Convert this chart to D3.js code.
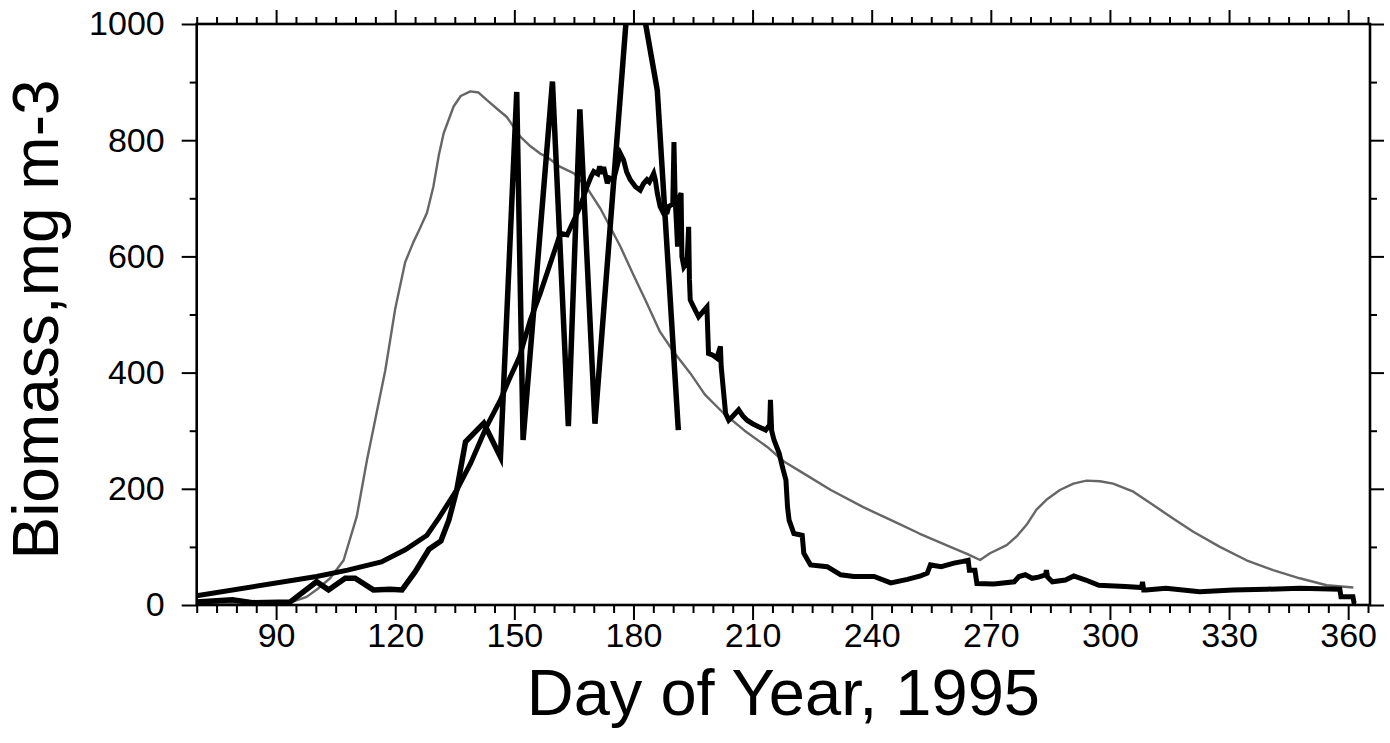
<!DOCTYPE html>
<html>
<head>
<meta charset="utf-8">
<script src="https://cdn.jsdelivr.net/npm/d3@7"></script>
<style>
  html, body { margin: 0; padding: 0; background: #fff; }
  svg { display: block; }
  text { font-family: "Liberation Sans", Arial, Helvetica, sans-serif; fill: #000; }
</style>
</head>
<body>
<svg id="chart" width="1390" height="743"></svg>
<script>
// ---------------- DATA ----------------
const xMajorTicks = [90, 120, 150, 180, 210, 240, 270, 300, 330, 360];
const yMajorTicks = [0, 200, 400, 600, 800, 1000];
const xTitle = "Day of Year, 1995";
const yTitle = "Biomass,mg m-3";

// thin gray curve [day, biomass]
const modelCurve = [
  [70,3],[80,3],[90,3],[93.5,4],[97.7,14],[100.5,28],[103.6,46],[107,77],[110.3,152],
  [112.9,250],[115,320],[117.5,404],[120,510],[122.5,590],[124.6,625],[126,645],[128,675],
  [129.6,720],[131,775],[132.2,812],[134.7,858],[136.5,876],[138.9,884],[141,882],[143.1,869],
  [146,852],[148.1,840],[149.8,823],[151.5,806],[154,790],[156.5,777],[158.2,771],[161.6,754],
  [165,743],[168.3,718],[171.7,682],[173.4,660],[176.7,617],[180,568],[183,525],[186.7,470],
  [190.2,435],[194.3,399],[198,362],[202.7,330],[208,300],[213.7,272],[217.9,247],[222,230],
  [229.7,198],[238,168],[246.5,141],[252,123],[259.8,100],[264,88],[267.3,77.5],[269.8,89],
  [274,103],[276.5,118],[279,138],[281.5,164],[284,181],[287.4,198],[290.8,209],[294.1,214],
  [297.5,213],[300.8,209],[305.9,195],[310.9,172],[315.9,149],[321,126],[327.7,100],[334.4,77],
  [341.1,60],[347.8,46],[354.6,34],[361.3,30]
];

// thick line: steady rise, then noisy plateau and decline to year end
const obsSeriesA = [
  [70,16],[100.2,49],[108,60],[116.5,74],[122.5,95],[128,120],[131,150],[135.5,198],[139,244],
  [143,307],[146.5,353],[148.6,387],[151.3,427],[154,490],[156.5,536],[159.9,605],[161.6,640],
  [163.3,637],[166.6,686],[168.3,720],[169.3,737],[170,746],[171,742],[171.5,755],[172,742],
  [172.5,754],[173.4,726],[174,735],[175,732],[176.7,777],[177.5,766],[178.3,745],[179.2,732],
  [180.5,720],[181.7,714],[182.5,725],[183.4,732],[184,728],[185.1,743],[185.5,732],[186,709],
  [186.7,686],[187.6,674],[188.5,676],[188.9,686],[189.9,690],[190.2,797],[190.5,700],[190.8,660],
  [191.1,617],[191.5,700],[192,709],[192.2,600],[192.7,582],[193.5,590],[193.9,651],[194.1,560],
  [194.3,525],[195,515],[196.4,496],[197.5,505],[198.5,513],[198.9,433],[200,430],[201,425],
  [201.9,445],[202.1,410],[203.2,330],[204,318],[205,325],[206.5,336],[207.5,326],[208.6,318],
  [210,312],[211.5,307],[213.3,301],[214.3,310],[214.5,353],[214.8,300],[215.4,284],[216.7,261],
  [217.5,238],[218.4,215],[218.8,169],[219.2,146],[220.4,123],[222.5,120],[222.9,89],[224.6,69],
  [228.8,66],[232.2,52],[235.5,49],[240.6,49],[244.8,38],[249,44],[252.3,50],[254,55],[254.8,69],
  [257.5,66],[260.7,72],[263,75],[264.3,77],[264.6,60],[266,60],[266.5,37],[270.8,36],[275.9,40],
  [277.1,49],[278.7,52],[280.4,46],[282,48],[283.8,52],[284,60],[284.3,48],[285.5,40],[288.8,43],
  [290.9,50],[293.9,43],[297.2,34],[303.9,32],[308,30],[308.2,40],[308.5,26],[309.1,26],
  [314.1,29],[322.6,23],[331,26],[339.4,27],[347.8,29],[357.9,27],[358.2,14],[361.2,14],
  [361.5,3],[362,3]
];

// thick line: low early values, then large zig-zag
const obsSeriesB = [
  [70,5],[74,7],[79,9],[84,4],[93.5,5],[95.2,14],[100.2,40],[103.2,26],[107.4,46],[109.9,46],
  [114.5,26],[118.7,27],[121.7,26],[125,57],[128.5,96],[131.5,110],[133.5,146],[135.5,198],
  [137.7,281],[142.3,313],[146.5,255],[150.6,883],[152.2,284],[159.6,901],[163.6,308],
  [166.5,853],[170.3,312],[178.2,1010],[181,1080],[186,886],[191.3,301]
];

// ---------------- LAYOUT ----------------
const svg = d3.select("#chart");
const pLeft = 196.7, pRight = 1370, pTop = 24, pBottom = 605;

const x = d3.scaleLinear().domain([70, 365.5]).range([pLeft, pRight]);
const y = d3.scaleLinear().domain([0, 1000]).range([pBottom, pTop]);

const xMinor = d3.range(70, 366, 5).filter(d => xMajorTicks.indexOf(d) < 0);
const yMinor = d3.range(100, 1000, 200);

svg.append("defs").append("clipPath").attr("id", "plotClip")
  .append("rect").attr("x", pLeft).attr("y", pTop)
  .attr("width", pRight - pLeft).attr("height", pBottom - pTop);

const tickFont = "34px";
function styleAxis(g) {
  g.select(".domain").remove();
  g.selectAll(".tick line").attr("stroke", "#000").attr("stroke-width", 2);
  g.selectAll(".tick text").style("font-size", tickFont)
    .style("font-family", '"Liberation Sans", Arial, Helvetica, sans-serif').attr("fill", "#000");
}

// bottom
svg.append("g").attr("transform", `translate(0,${pBottom})`)
  .call(d3.axisBottom(x).tickValues(xMajorTicks).tickSize(15).tickPadding(3).tickFormat(d3.format("d")))
  .call(styleAxis);
svg.append("g").attr("transform", `translate(0,${pBottom})`)
  .call(d3.axisBottom(x).tickValues(xMinor).tickSize(8).tickFormat(""))
  .call(styleAxis);
// top
svg.append("g").attr("transform", `translate(0,${pTop})`)
  .call(d3.axisTop(x).tickValues(xMajorTicks).tickSize(14).tickFormat(""))
  .call(styleAxis);
svg.append("g").attr("transform", `translate(0,${pTop})`)
  .call(d3.axisTop(x).tickValues(xMinor).tickSize(7).tickFormat(""))
  .call(styleAxis);
// left
svg.append("g").attr("transform", `translate(${pLeft},0)`)
  .call(d3.axisLeft(y).tickValues(yMajorTicks).tickSize(15).tickPadding(17).tickFormat(d3.format("d")))
  .call(styleAxis);
svg.append("g").attr("transform", `translate(${pLeft},0)`)
  .call(d3.axisLeft(y).tickValues(yMinor).tickSize(7).tickFormat(""))
  .call(styleAxis);
// right
svg.append("g").attr("transform", `translate(${pRight},0)`)
  .call(d3.axisRight(y).tickValues(yMajorTicks).tickSize(14).tickFormat(""))
  .call(styleAxis);
svg.append("g").attr("transform", `translate(${pRight},0)`)
  .call(d3.axisRight(y).tickValues(yMinor).tickSize(7).tickFormat(""))
  .call(styleAxis);

// lines
const line = d3.line().x(d => x(d[0])).y(d => y(d[1]));
const plot = svg.append("g").attr("clip-path", "url(#plotClip)");

plot.append("path").datum(modelCurve).attr("d", line)
  .attr("fill", "none").attr("stroke", "#666").attr("stroke-width", 2.4)
  .attr("stroke-linejoin", "round");
plot.append("path").datum(obsSeriesA).attr("d", line)
  .attr("fill", "none").attr("stroke", "#000").attr("stroke-width", 5)
  .attr("stroke-linejoin", "miter").attr("stroke-miterlimit", 3);
plot.append("path").datum(obsSeriesB).attr("d", line)
  .attr("fill", "none").attr("stroke", "#000").attr("stroke-width", 5.5)
  .attr("stroke-linejoin", "miter").attr("stroke-miterlimit", 6);

// frame
svg.append("rect").attr("x", pLeft).attr("y", pTop)
  .attr("width", pRight - pLeft).attr("height", pBottom - pTop)
  .attr("fill", "none").attr("stroke", "#000").attr("stroke-width", 2.6);

// titles
svg.append("text").attr("x", (pLeft + pRight) / 2).attr("y", 715)
  .attr("text-anchor", "middle").style("font-size", "65px").text(xTitle);
svg.append("text").attr("transform", `translate(58,${(pTop + pBottom) / 2 + 5}) rotate(-90)`)
  .attr("text-anchor", "middle").style("font-size", "64px").text(yTitle);
</script>
</body>
</html>
